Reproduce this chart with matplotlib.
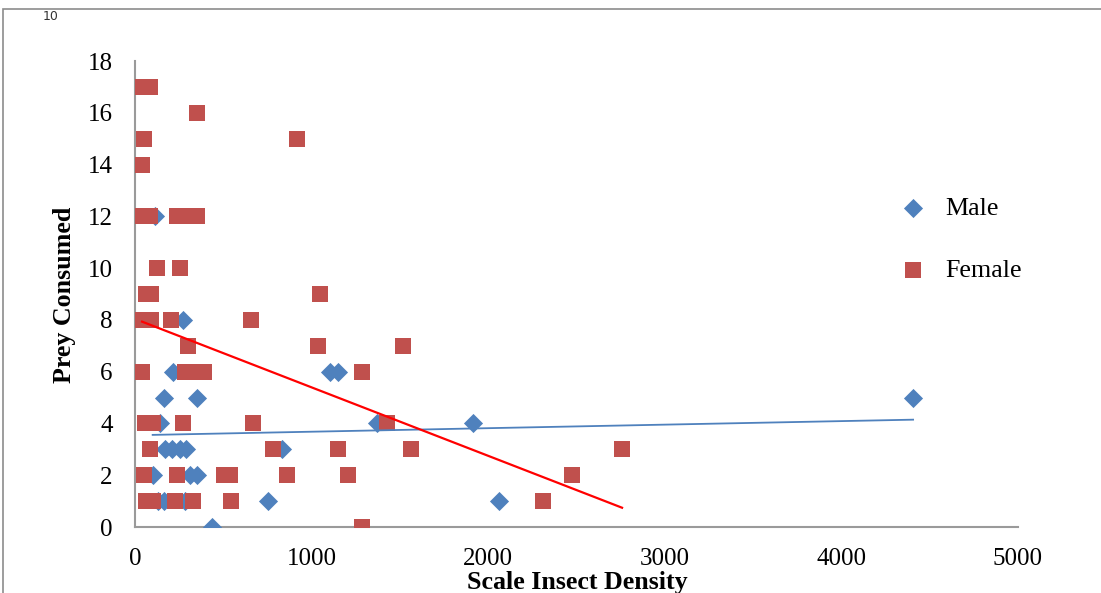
import numpy as np
import matplotlib
matplotlib.use("Agg")
import matplotlib.pyplot as plt
from matplotlib.patches import Rectangle

# ---- data ----
male_x = [113, 272, 215, 164, 351, 142, 170, 210, 255, 289, 100, 311, 351,
          130, 164, 283, 753, 2061, 436, 1104, 1150, 1370, 1914, 832, 4406]
male_y = [12, 8, 6, 5, 5, 4, 3, 3, 3, 3, 2, 2, 2,
          1, 1, 1, 1, 1, 0, 6, 6, 4, 4, 3, 5]

female_x = [45, 85, 351, 51, 917, 40,
            40, 85, 238, 289, 351,
            125, 255,
            62, 91, 1048,
            45, 91, 204, 657,
            300, 1036, 1518,
            40, 283, 345, 391, 1286,
            57, 102, 272, 668, 1427,
            85, 782, 1150, 1563, 2758,
            51, 238, 504, 538, 861, 1206, 2475,
            62, 102, 227, 328, 544, 2310,
            1286]
female_y = [17, 17, 16, 15, 15, 14,
            12, 12, 12, 12, 12,
            10, 10,
            9, 9, 9,
            8, 8, 8, 8,
            7, 7, 7,
            6, 6, 6, 6, 6,
            4, 4, 4, 4, 4,
            3, 3, 3, 3, 3,
            2, 2, 2, 2, 2, 2, 2,
            1, 1, 1, 1, 1, 1,
            0]

series_labels = ["Male", "Female"]
x_ticks = [0, 1000, 2000, 3000, 4000, 5000]
y_ticks = [0, 2, 4, 6, 8, 10, 12, 14, 16, 18]
x_label = "Scale Insect Density"
y_label = "Prey Consumed"

# ---- style ----
W, H = 1101, 593
serif = ["Liberation Serif", "DejaVu Serif"]
plt.rcParams["font.family"] = serif
blue = "#4F81BD"
red = "#C0504D"
fs = 18
lfs = 18.7

fig = plt.figure(figsize=(W / 100, H / 100), dpi=100)
ax = fig.add_axes([135 / W, 1 - 527 / H, (1018 - 135) / W, (527 - 61) / H])

ax.scatter(male_x, male_y, marker="D", s=95, color=blue, linewidths=0,
           zorder=3, label=series_labels[0])
ax.scatter(female_x, female_y, marker="s", s=121, color=red, linewidths=0,
           zorder=4, label=series_labels[1])

# linear trend lines
mx = np.array(male_x, float); my = np.array(male_y, float)
fx = np.array(female_x, float); fy = np.array(female_y, float)
mp = np.polyfit(mx, my, 1)
fp = np.polyfit(fx, fy, 1)
mxs = np.array([mx.min(), mx.max()])
fxs = np.array([fx.min(), fx.max()])
ax.plot(mxs, np.polyval(mp, mxs), color=blue, lw=1.3, zorder=5)
ax.plot(fxs, np.polyval(fp, fxs), color="#FF0000", lw=1.6, zorder=5)

ax.set_xlim(0, 5000)
ax.set_ylim(0, 18)
ax.set_xticks(x_ticks)
ax.set_yticks(y_ticks)
ax.tick_params(length=0, labelsize=fs)
ax.tick_params(axis="x", pad=15)
ax.tick_params(axis="y", pad=16)
for s in ["top", "right"]:
    ax.spines[s].set_visible(False)
for s in ["left", "bottom"]:
    ax.spines[s].set_color("#9A9A9A")
    ax.spines[s].set_linewidth(1.5)

fig.text(577 / W, 1 - 582 / H, x_label, ha="center", va="center",
         fontsize=lfs, fontweight="bold")
fig.text(65 / W, 1 - 295 / H, y_label, ha="center", va="center",
         rotation=90, fontsize=lfs, fontweight="bold")

leg = ax.legend(loc="center left", bbox_to_anchor=(900 / W, 1 - 239.5 / H),
                bbox_transform=fig.transFigure, frameon=False, fontsize=lfs,
                scatterpoints=1, handlelength=1.0, handletextpad=0.75,
                labelspacing=1.5, borderpad=0, borderaxespad=0)

# outer chart frame
fig.add_artist(Rectangle((3 / W, -0.2), 1.2, 1.2 - 9 / H,
                         transform=fig.transFigure, fill=False,
                         edgecolor="#8C8C8C", lw=1.2))
fig.text(43 / W, 1 - 17 / H, "10", fontsize=9, va="center", ha="left",
         family="DejaVu Sans", color="#333333")

fig.savefig("out.png", dpi=100)
